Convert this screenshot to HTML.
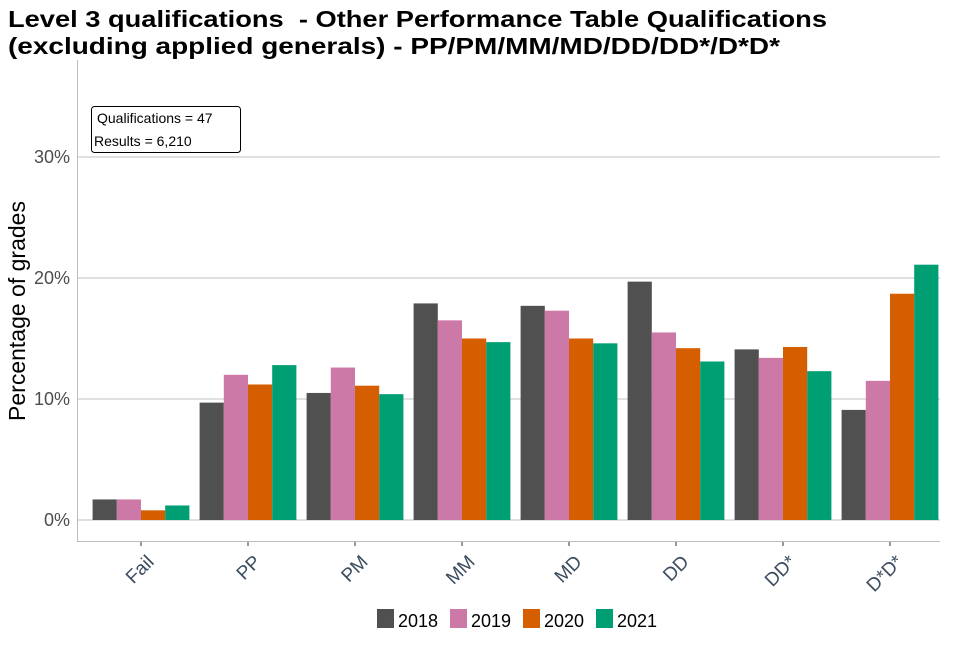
<!DOCTYPE html>
<html><head><meta charset="utf-8">
<style>
body{margin:0;background:#fff;width:960px;height:640px;overflow:hidden;font-family:"Liberation Sans",sans-serif}
</style></head>
<body>
<svg id="chart" width="960" height="640" xmlns="http://www.w3.org/2000/svg">
<text x="8" y="27" font-size="23" font-weight="bold" fill="#000" textLength="819" lengthAdjust="spacingAndGlyphs" xml:space="preserve">Level 3 qualifications  - Other Performance Table Qualifications</text>
<text x="8" y="54" font-size="23" font-weight="bold" fill="#000" textLength="772" lengthAdjust="spacingAndGlyphs">(excluding applied generals) - PP/PM/MM/MD/DD/DD*/D*D*</text>
<g id="grid"></g>
<g id="bars"></g>
<g id="axes"></g>
<text transform="translate(25,311) rotate(-90)" text-anchor="middle" font-size="23" fill="#000">Percentage of grades</text>
<g>
<rect x="91.5" y="106.5" width="149" height="46" rx="3" fill="#fff" stroke="#000" stroke-width="1"/>
<text x="97" y="123" font-size="14" fill="#000">Qualifications = 47</text>
<text x="94" y="146" font-size="14" fill="#000">Results = 6,210</text>
</g>
<g id="legend"></g>
</svg>
<script>
const categories=["Fail","PP","PM","MM","MD","DD","DD*","D*D*"];
const years=["2018","2019","2020","2021"];
const s2018=[1.7,9.7,10.5,17.9,17.7,19.7,14.1,9.1];
const s2019=[1.7,12.0,12.6,16.5,17.3,15.5,13.4,11.5];
const s2020=[0.8,11.2,11.1,15.0,15.0,14.2,14.3,18.7];
const s2021=[1.2,12.8,10.4,14.7,14.6,13.1,12.3,21.1];
const yTicks=[0,10,20,30];
const yTickLabels=["0%","10%","20%","30%"];
const series=[s2018,s2019,s2020,s2021];
const colors=["#505050","#cc79a7","#d55e00","#009e73"];
const NS="http://www.w3.org/2000/svg";
const y=v=>520-v*12.1;
const x=i=>141+i*107;
const bw=24.2;
function mk(t,a,p){const e=document.createElementNS(NS,t);for(const k in a)e.setAttribute(k,a[k]);p.appendChild(e);return e;}
const grid=document.getElementById('grid'),bars=document.getElementById('bars'),axes=document.getElementById('axes'),legend=document.getElementById('legend');
yTicks.forEach((t,i)=>{
 const l=mk('line',{x1:78,x2:940,y1:y(t),y2:y(t),stroke:'#c0c0c0','stroke-width':1},grid);
 
 
 const tx=mk('text',{x:70,y:y(t)+6,'text-anchor':'end','font-size':18,fill:'#4d4d4d'},axes);
 tx.textContent=yTickLabels[i];
 
 
});
series.forEach((s,j)=>{
 s.forEach((v,i)=>{
  const r=mk('rect',{x:x(i)-2*bw+j*bw,y:y(v),width:bw,height:y(0)-y(v),fill:colors[j]},bars);
  
  
 });
});
const la=mk('line',{x1:77.5,x2:77.5,y1:60,y2:541,stroke:'#bdbdbd','stroke-width':1},axes);


const lb=mk('line',{x1:77,x2:940,y1:541.5,y2:541.5,stroke:'#bdbdbd','stroke-width':1},axes);


categories.forEach((c,i)=>{
 const tk=mk('line',{x1:x(i),x2:x(i),y1:542,y2:546,stroke:'#333','stroke-width':1},axes);
 
 
 const t=mk('text',{transform:`translate(${x(i)+14},${563}) rotate(-45)`,'text-anchor':'end','font-size':19,fill:'#3d4d60'},axes);
 t.textContent=c;
 
 
});
years.forEach((yr,j)=>{
 const lx=377+j*73;
 const r=mk('rect',{x:lx,y:609,width:17,height:19,fill:colors[j]},legend);
 
 
 const t=mk('text',{x:lx+21,y:627,'font-size':18,fill:'#000'},legend);
 t.textContent=yr;
 
 
});
</script>
</body></html>
